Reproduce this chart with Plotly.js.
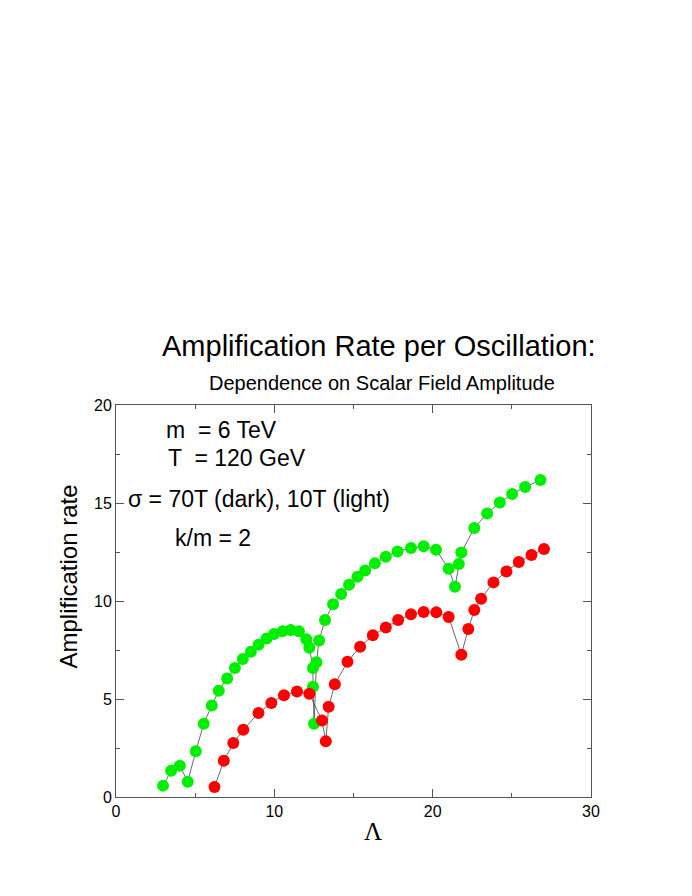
<!DOCTYPE html>
<html>
<head>
<meta charset="utf-8">
<script src="https://cdn.plot.ly/plotly-3.0.1.min.js"></script>
<style>html,body{margin:0;padding:0;background:#fff;}#chart{width:692px;height:896px;}</style>
</head>
<body>
<div id="chart"></div>
<script>
// Light (10T) series — green
const lightX = [2.97, 3.48, 4.03, 4.53, 5.04, 5.54, 6.05, 6.49, 7.02, 7.51, 8.01, 8.52, 9.00, 9.51, 9.98, 10.52, 11.03, 11.55, 12.02, 12.21, 12.44, 12.44, 12.51, 12.66, 12.83, 13.20, 13.71, 14.22, 14.72, 15.25, 15.74, 16.35, 17.04, 17.78, 18.63, 19.43, 20.21, 21.01, 21.41, 21.65, 21.81, 22.63, 23.44, 24.24, 25.02, 25.84, 26.81];
const lightY = [0.58, 1.34, 1.60, 0.78, 2.33, 3.74, 4.67, 5.42, 6.05, 6.58, 7.04, 7.41, 7.77, 8.09, 8.32, 8.46, 8.52, 8.46, 8.05, 7.62, 6.58, 5.62, 3.74, 6.87, 7.99, 9.03, 9.83, 10.36, 10.83, 11.24, 11.56, 11.92, 12.26, 12.53, 12.70, 12.79, 12.62, 11.65, 10.73, 11.89, 12.48, 13.72, 14.47, 15.02, 15.46, 15.82, 16.17];
// Dark (70T) series — red
const darkX = [6.22, 6.81, 7.41, 8.04, 9.00, 9.81, 10.61, 11.43, 12.21, 13.01, 13.25, 13.43, 13.82, 14.62, 15.42, 16.22, 17.04, 17.82, 18.63, 19.43, 20.23, 21.01, 21.81, 22.25, 22.63, 23.06, 23.84, 24.66, 25.44, 26.24, 27.03];
const darkY = [0.51, 1.85, 2.75, 3.43, 4.29, 4.80, 5.19, 5.38, 5.27, 3.90, 2.85, 4.60, 5.75, 6.90, 7.67, 8.25, 8.65, 9.03, 9.32, 9.44, 9.42, 9.18, 7.26, 8.57, 9.54, 10.12, 10.95, 11.51, 11.99, 12.35, 12.65];

const titleMain = 'Amplification Rate per Oscillation:';
const titleSub = 'Dependence on Scalar Field Amplitude';
const xTitle = 'Λ';
const yTitle = 'Amplification rate';
const notes = ['m  = 6 TeV', 'T  = 120 GeV', 'σ = 70T (dark), 10T (light)', 'k/m = 2'];

const lineStyle = {color: '#444', width: 0.8};
const traces = [
  {x: lightX, y: lightY, type: 'scatter', mode: 'lines+markers', line: lineStyle,
   marker: {color: '#00ee00', size: 12}, showlegend: false, hoverinfo: 'skip'},
  {x: darkX, y: darkY, type: 'scatter', mode: 'lines+markers', line: lineStyle,
   marker: {color: '#ff0000', size: 12}, showlegend: false, hoverinfo: 'skip'}
];

const font = 'Liberation Sans, Arial, sans-serif';
const axisCommon = {
  showgrid: false, zeroline: false, showline: true, linecolor: '#555', linewidth: 1,
  mirror: 'ticks', ticks: 'inside', ticklen: 8, tickcolor: '#555', tickwidth: 1,
  tickfont: {family: font, size: 16, color: '#000'}
};

const noteFont = {family: font, size: 23, color: '#000'};
const layout = {
  width: 692, height: 896,
  margin: {l: 116, r: 101, t: 405, b: 99},
  paper_bgcolor: '#fff', plot_bgcolor: '#fff',
  xaxis: Object.assign({}, axisCommon, {
    range: [0, 30], dtick: 10, tick0: 0,
    minor: {dtick: 5, ticks: 'inside', ticklen: 4, tickcolor: '#555'}
  }),
  yaxis: Object.assign({}, axisCommon, {
    range: [0, 20], dtick: 5, tick0: 0,
    minor: {dtick: 2.5, ticks: 'inside', ticklen: 4, tickcolor: '#555'}
  }),
  annotations: [
    {text: titleMain, xref: 'paper', yref: 'paper', x: 0.554, y: 1.15, xanchor: 'center', yanchor: 'middle', showarrow: false,
     font: {family: font, size: 29, color: '#000'}},
    {text: titleSub, xref: 'paper', yref: 'paper', x: 0.561, y: 1.056, xanchor: 'center', yanchor: 'middle', showarrow: false,
     font: {family: font, size: 20, color: '#000'}},
    {text: yTitle, xref: 'paper', yref: 'paper', x: -0.101, y: 0.5625, xanchor: 'center', yanchor: 'middle', textangle: -90, showarrow: false,
     font: {family: font, size: 24, color: '#000'}},
    {text: xTitle, xref: 'paper', yref: 'paper', x: 0.541, y: -0.089, xanchor: 'center', yanchor: 'middle', showarrow: false,
     font: {family: 'Liberation Serif, Times New Roman, serif', size: 25, color: '#000'}},
    {text: notes[0], xref: 'x', yref: 'y', x: 3.05, y: 18.72, xanchor: 'left', yanchor: 'middle', showarrow: false, font: noteFont},
    {text: notes[1], xref: 'x', yref: 'y', x: 3.18, y: 17.3, xanchor: 'left', yanchor: 'middle', showarrow: false, font: noteFont},
    {text: notes[2], xref: 'x', yref: 'y', x: 0.65, y: 15.2, xanchor: 'left', yanchor: 'middle', showarrow: false, font: noteFont},
    {text: notes[3], xref: 'x', yref: 'y', x: 3.62, y: 13.21, xanchor: 'left', yanchor: 'middle', showarrow: false, font: noteFont}
  ]
};

Plotly.newPlot('chart', traces, layout, {displayModeBar: false, staticPlot: true});
</script>
</body>
</html>
